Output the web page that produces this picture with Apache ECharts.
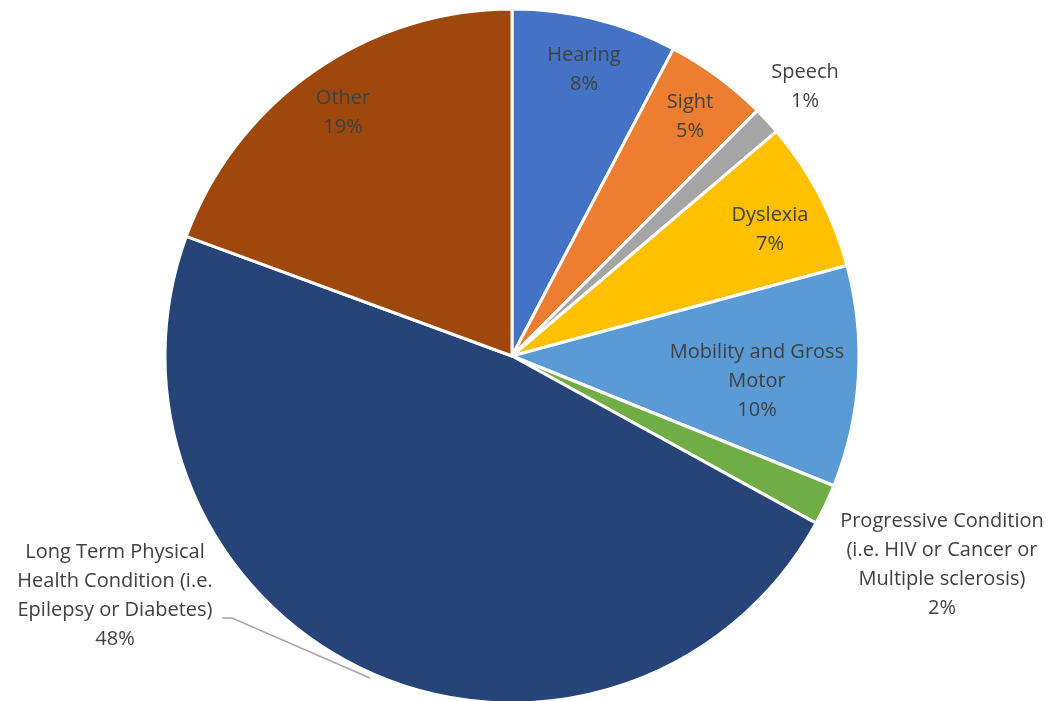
<!DOCTYPE html>
<html>
<head>
<meta charset="utf-8">
<script src="https://cdn.jsdelivr.net/npm/echarts@6/dist/echarts.min.js"></script>
<style>html,body{margin:0;padding:0;background:#fff;}#chart{width:1052px;height:701px;}</style>
</head>
<body>
<div id="chart"></div>
<script>
const categories = [
  'Hearing',
  'Sight',
  'Speech',
  'Dyslexia',
  'Mobility and Gross\nMotor',
  'Progressive Condition\n(i.e. HIV or Cancer or\nMultiple sclerosis)',
  'Long Term Physical\nHealth Condition (i.e.\nEpilepsy or Diabetes)',
  'Other'
];
const values = [7.7, 4.8, 1.3, 7.0, 10.3, 1.9, 47.6, 19.4];
const colors = ['#4472C4', '#ED7D31', '#A5A5A5', '#FFC000', '#5B9BD5', '#70AD47', '#264478', '#9E480E'];

// label placement (text block centres) in px, like the source's data labels
const labelPos = [[584, 70], [690, 117], [805, 87], [770, 230], [757, 381], [942, 565], [115, 596], [343, 113]];
const leaderIndex = 6;

const chart = echarts.init(document.getElementById('chart'), null, {renderer: 'canvas'});
const total = values.reduce((a, b) => a + b, 0);
chart.setOption({
  animation: false,
  color: colors,
  series: [{
    type: 'pie',
    center: [512, 356],
    radius: 347,
    startAngle: 90,
    clockwise: true,
    avoidLabelOverlap: false,
    itemStyle: {borderColor: '#ffffff', borderWidth: 3},
    label: {
      show: true,
      position: 'outside',
      color: '#404040',
      fontFamily: '"Open Sans", sans-serif',
      fontSize: 20,
      lineHeight: 29,
      align: 'center',
      formatter: p => p.name + '\n' + Math.round(p.value / total * 100) + '%'
    },
    labelLine: {show: false},
    emphasis: {disabled: true},
    data: categories.map((c, i) => ({
      name: c,
      value: values[i],
      labelLine: i === leaderIndex ? {show: true, lineStyle: {color: '#A6A6A6', width: 1.5}} : {show: false}
    })),
    labelLayout: function (params) {
      const i = params.dataIndex;
      const pos = labelPos[i];
      const res = {x: pos[0], y: pos[1], align: 'center', verticalAlign: 'middle'};
      if (i === leaderIndex) {
        res.labelLinePoints = [[370, 678], [232, 618], [222, 618]];
      }
      return res;
    }
  }]
});
</script>
</body>
</html>
